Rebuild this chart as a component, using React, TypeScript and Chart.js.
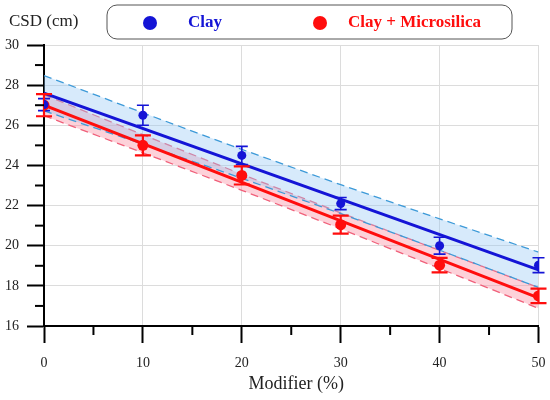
import { useEffect, useRef } from "react";
import { Chart, registerables } from "chart.js";
Chart.register(...registerables);

// ---- data ----
const modifier = [0, 10, 20, 30, 40, 50];

const clayCSD = [27.03, 26.5, 24.5, 22.1, 20.0, 19.03];
const clayErr = [0.3, 0.5, 0.45, 0.3, 0.42, 0.37];
const mixCSD = [27.0, 25.0, 23.5, 21.05, 19.03, 17.5];
const mixErr = [0.55, 0.5, 0.45, 0.45, 0.36, 0.36];

const fitX = [0, 50];
const clayFit = [27.6, 18.8];
const mixFit = [27.0, 17.4];

const clayUpper = [28.48, 26.62, 24.8, 23.04, 21.34, 19.68];
const clayLower = [26.72, 25.06, 23.36, 21.6, 19.78, 17.92];
const mixUpper = [27.52, 25.53, 23.56, 21.64, 19.77, 17.92];
const mixLower = [26.48, 24.63, 22.76, 20.84, 18.87, 16.88];

const seriesNames = ["Clay", "Clay + Microsilica"];
const yTitle = "CSD (cm)";
const xTitle = "Modifier (%)";

const BLUE = "#1414d6";
const RED = "#ff0d0d";
const SERIF = "'Liberation Serif', 'Times New Roman', serif";

const pts = (xs: number[], ys: number[]) => xs.map((x, i) => ({ x, y: ys[i] }));

export default function App() {
  const ref = useRef<HTMLCanvasElement | null>(null);

  useEffect(() => {
    if (!ref.current) return;

    const errorBars = {
      id: "errorBars",
      beforeDatasetDraw(chart: any, args: any) {
        if (args.meta.label !== "mixMarkers") return;
        const { ctx } = chart;
        const xs = chart.scales.x;
        const ys = chart.scales.y;
        const draw = (vals: number[], errs: number[], color: string, lw: number, cap: number) => {
          ctx.save();
          ctx.strokeStyle = color;
          ctx.lineWidth = lw;
          vals.forEach((v, i) => {
            const px = xs.getPixelForValue(modifier[i]);
            const top = ys.getPixelForValue(v + errs[i]);
            const bot = ys.getPixelForValue(v - errs[i]);
            ctx.beginPath();
            ctx.moveTo(px, top);
            ctx.lineTo(px, bot);
            ctx.moveTo(px - cap, top);
            ctx.lineTo(px + cap, top);
            ctx.moveTo(px - cap, bot);
            ctx.lineTo(px + cap, bot);
            ctx.stroke();
          });
          ctx.restore();
        };
        draw(clayCSD, clayErr, BLUE, 1.6, 6);
        draw(mixCSD, mixErr, RED, 2.2, 8);
      },
    };

    const decorations = {
      id: "decorations",
      afterDraw(chart: any) {
        const { ctx, chartArea } = chart;
        const xs = chart.scales.x;
        const ys = chart.scales.y;
        ctx.save();
        // minor ticks
        ctx.strokeStyle = "#000";
        ctx.lineWidth = 2;
        const xt = xs.ticks.map((t: any) => t.value);
        for (let i = 0; i < xt.length - 1; i++) {
          const px = xs.getPixelForValue((xt[i] + xt[i + 1]) / 2);
          ctx.beginPath();
          ctx.moveTo(px, chartArea.bottom);
          ctx.lineTo(px, chartArea.bottom + 9);
          ctx.stroke();
        }
        const yt = ys.ticks.map((t: any) => t.value);
        for (let i = 0; i < yt.length - 1; i++) {
          const py = ys.getPixelForValue((yt[i] + yt[i + 1]) / 2);
          ctx.beginPath();
          ctx.moveTo(chartArea.left - 9, py);
          ctx.lineTo(chartArea.left, py);
          ctx.stroke();
        }
        // titles
        ctx.fillStyle = "#222";
        ctx.font = `17px ${SERIF}`;
        ctx.textAlign = "left";
        ctx.textBaseline = "middle";
        ctx.fillText(yTitle, 9, 22);
        ctx.font = `18px ${SERIF}`;
        ctx.textAlign = "center";
        ctx.fillText(xTitle, (chartArea.left + chartArea.right) / 2 + 5, 384);
        // legend box
        const bx = 107, by = 5, bw = 405, bh = 34, r = 10;
        ctx.beginPath();
        ctx.moveTo(bx + r, by);
        ctx.lineTo(bx + bw - r, by);
        ctx.arcTo(bx + bw, by, bx + bw, by + r, r);
        ctx.lineTo(bx + bw, by + bh - r);
        ctx.arcTo(bx + bw, by + bh, bx + bw - r, by + bh, r);
        ctx.lineTo(bx + r, by + bh);
        ctx.arcTo(bx, by + bh, bx, by + bh - r, r);
        ctx.lineTo(bx, by + r);
        ctx.arcTo(bx, by, bx + r, by, r);
        ctx.closePath();
        ctx.fillStyle = "#fff";
        ctx.fill();
        ctx.strokeStyle = "#555";
        ctx.lineWidth = 1;
        ctx.stroke();
        const items = [
          { name: seriesNames[0], color: BLUE, dot: 150, text: 188 },
          { name: seriesNames[1], color: RED, dot: 320, text: 348 },
        ];
        ctx.font = `bold 17px ${SERIF}`;
        ctx.textAlign = "left";
        items.forEach((it) => {
          ctx.fillStyle = it.color;
          ctx.beginPath();
          ctx.arc(it.dot, 23, 7, 0, Math.PI * 2);
          ctx.fill();
          ctx.fillText(it.name, it.text, 23);
        });
        ctx.restore();
      },
    };

    const dsList: any[] = [
      {
        label: "mixUpper",
        data: pts(modifier, mixUpper),
        showLine: true,
        borderColor: "#f0607a",
        borderWidth: 1.3,
        borderDash: [8, 5],
        pointRadius: 0,
        fill: "+1",
        backgroundColor: "rgba(250,140,160,0.4)",
      },
      {
        label: "mixLower",
        data: pts(modifier, mixLower),
        showLine: true,
        borderColor: "#f0607a",
        borderWidth: 1.3,
        borderDash: [8, 5],
        pointRadius: 0,
        fill: false,
      },
      {
        label: "clayUpper",
        data: pts(modifier, clayUpper),
        showLine: true,
        borderColor: "#3d9ad8",
        borderWidth: 1.3,
        borderDash: [8, 5],
        pointRadius: 0,
        fill: "+1",
        backgroundColor: "rgba(150,200,245,0.38)",
      },
      {
        label: "clayLower",
        data: pts(modifier, clayLower),
        showLine: true,
        borderColor: "#3d9ad8",
        borderWidth: 1.3,
        borderDash: [8, 5],
        pointRadius: 0,
        fill: false,
      },
      {
        label: "clayFit",
        data: pts(fitX, clayFit),
        showLine: true,
        borderColor: BLUE,
        borderWidth: 3,
        pointRadius: 0,
      },
      {
        label: "mixFit",
        data: pts(fitX, mixFit),
        showLine: true,
        borderColor: RED,
        borderWidth: 3,
        pointRadius: 0,
      },
      {
        label: "mixMarkers",
        data: pts(modifier, mixCSD),
        showLine: false,
        pointRadius: 5.5,
        pointBackgroundColor: RED,
        pointBorderWidth: 0,
        borderColor: RED,
      },
      {
        label: "clayMarkers",
        data: pts(modifier, clayCSD),
        showLine: false,
        pointRadius: 4.5,
        pointBackgroundColor: BLUE,
        pointBorderWidth: 0,
        borderColor: BLUE,
      },
    ];
    const N = dsList.length;
    dsList.forEach((d, i) => {
      d.order = N - i;
      d.tension = 0;
    });

    const chart = new Chart(ref.current, {
      type: "scatter",
      data: { datasets: dsList },
      options: {
        animation: false,
        responsive: true,
        maintainAspectRatio: false,
        layout: { padding: { top: 45, right: 11.5, left: 0, bottom: 0 } },
        plugins: {
          legend: { display: false },
          tooltip: { enabled: false },
        },
        scales: {
          x: {
            type: "linear",
            min: 0,
            max: 50,
            afterFit: (s: any) => {
              s.height = 74;
              s.paddingRight = 0;
              s.paddingLeft = 0;
            },
            ticks: {
              stepSize: 10,
              color: "#222",
              font: { family: SERIF, size: 14 },
              padding: 12,
            },
            grid: {
              color: "#dcdcdc",
              lineWidth: 1,
              tickColor: "#000",
              tickWidth: 2,
              tickLength: 17,
            },
            border: { color: "#000", width: 2 },
          },
          y: {
            type: "linear",
            min: 16,
            max: 30,
            afterFit: (s: any) => {
              s.width = 44;
              s.paddingTop = 0;
              s.paddingBottom = 0;
            },
            ticks: {
              stepSize: 2,
              color: "#222",
              font: { family: SERIF, size: 14 },
              padding: 8,
            },
            grid: {
              color: "#dcdcdc",
              lineWidth: 1,
              tickColor: "#000",
              tickWidth: 2,
              tickLength: 17,
            },
            border: { color: "#000", width: 2 },
          },
        },
      },
      plugins: [errorBars, decorations],
    });
    return () => chart.destroy();
  }, []);

  return (
    <div style={{ position: "fixed", left: 0, top: 0, width: 550, height: 400, background: "#fff" }}>
      <canvas ref={ref} />
    </div>
  );
}
